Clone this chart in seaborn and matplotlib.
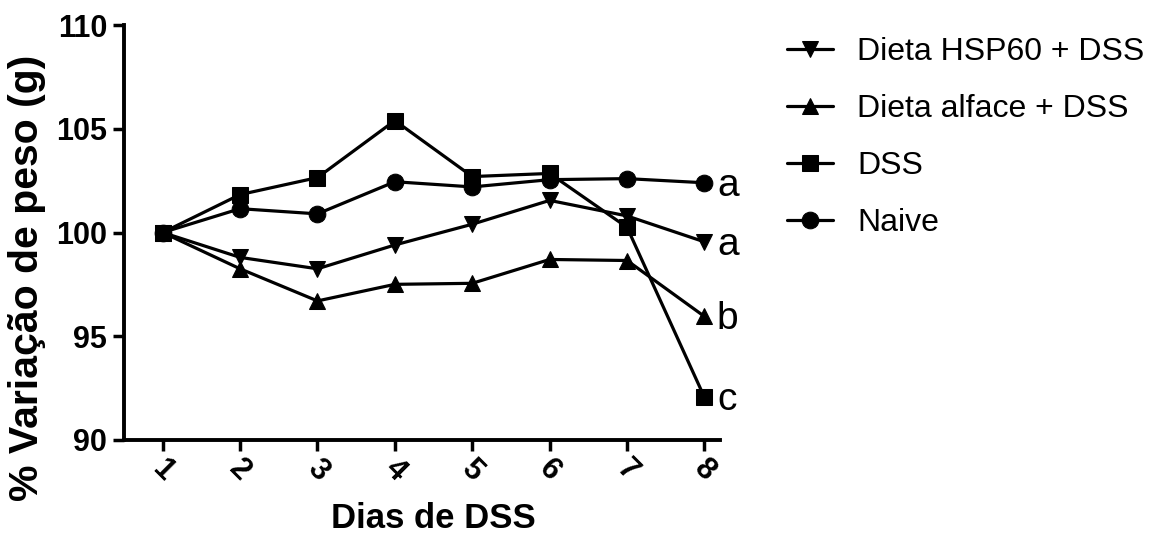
import matplotlib
matplotlib.use("Agg")
import matplotlib.pyplot as plt
import seaborn as sns
import pandas as pd

days = [1, 2, 3, 4, 5, 6, 7, 8]
hsp60 = [100, 98.8, 98.25, 99.4, 100.4, 101.55, 100.8, 99.55]
alface = [100, 98.25, 96.7, 97.5, 97.55, 98.7, 98.65, 95.95]
dss = [100, 101.83, 102.65, 105.4, 102.7, 102.85, 100.25, 92.05]
naive = [100, 101.15, 100.9, 102.45, 102.2, 102.55, 102.6, 102.4]
series_names = ["Dieta HSP60 + DSS", "Dieta alface + DSS", "DSS", "Naive"]
end_letters = ["a", "a", "b", "c"]
y_ticks = [90, 95, 100, 105, 110]

sns.set_theme(style="ticks", rc={"text.color": "black", "axes.labelcolor": "black",
                                 "xtick.color": "black", "ytick.color": "black",
                                 "axes.edgecolor": "black"})
plt.rcParams['font.family'] = ['Liberation Sans', 'DejaVu Sans']

rows = []
for name, vals in zip(series_names, [hsp60, alface, dss, naive]):
    for d, v in zip(days, vals):
        rows.append({"Dia": d, "Peso": v, "Grupo": name})
df = pd.DataFrame(rows)

fig = plt.figure(figsize=(11.64, 5.37), dpi=100)
ax = fig.add_axes([0.1065, 0.181, 0.512, 0.772])

markers = {series_names[0]: "v", series_names[1]: "^", series_names[2]: "s", series_names[3]: "o"}
palette = {n: "black" for n in series_names}
sns.lineplot(data=df, x="Dia", y="Peso", hue="Grupo", style="Grupo", markers=markers,
             dashes=False, palette=palette, hue_order=series_names, style_order=series_names,
             linewidth=2.3, markersize=12, markeredgecolor="black", ax=ax)

ax.set_ylim(90, 110)
ax.set_xlim(0.5, 8.2)
ax.set_yticks(y_ticks)
ax.set_xticks(days)
ax.tick_params(axis="both", width=2.5, length=8, direction="out", labelsize=22, pad=4,
               color="black", labelcolor="black")
ax.tick_params(axis="x", pad=2)
ax.set_xticklabels([str(d) for d in days], rotation=-45, ha="center")
for lbl in ax.get_xticklabels() + ax.get_yticklabels():
    lbl.set_fontweight("bold")
    lbl.set_fontsize(22)
for s in ["left", "bottom"]:
    ax.spines[s].set_linewidth(2.8)
    ax.spines[s].set_color("black")
sns.despine(ax=ax)

ax.set_xlabel("Dias de DSS", fontsize=25, fontweight="bold", color="black")
ax.set_ylabel("% Variação de peso (g)", fontsize=29.5, fontweight="bold", color="black")
ax.xaxis.set_label_coords(0.52, -0.15)
ax.yaxis.set_label_coords(-0.13, 0.39)

# letters at end points
end_vals = [naive[-1], hsp60[-1], alface[-1], dss[-1]]
for letter, v in zip(end_letters, end_vals):
    ax.annotate(letter, xy=(days[-1], v), xytext=(9, -2), textcoords="offset points",
                fontsize=28, va="center", ha="left", color="black", annotation_clip=False)

handles, labels = ax.get_legend_handles_labels()
leg = ax.legend(handles, labels, loc="upper left", bbox_to_anchor=(0.665, 0.955),
                bbox_transform=fig.transFigure, borderaxespad=0, frameon=False,
                fontsize=23, handlelength=1.45, labelspacing=0.85, handletextpad=0.75)
for t in leg.get_texts():
    t.set_color("black")

fig.savefig("out.png", dpi=100)
